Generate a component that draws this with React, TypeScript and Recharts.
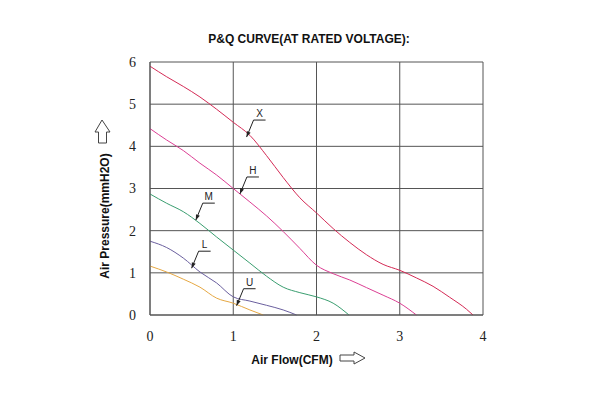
import { LineChart, Line, XAxis, YAxis, CartesianGrid, ReferenceDot } from 'recharts'

// P&Q curves, air flow (CFM) vs air pressure (mmH2O)
const flowTicks = [0, 1, 2, 3, 4]
const pressureTicks = [0, 1, 2, 3, 4, 5, 6]

const curveX = [
  { flow: 0, pressure: 5.9 }, { flow: 0.2, pressure: 5.65 }, { flow: 0.4, pressure: 5.42 },
  { flow: 0.6, pressure: 5.17 }, { flow: 0.8, pressure: 4.88 }, { flow: 1.0, pressure: 4.57 },
  { flow: 1.2, pressure: 4.26 }, { flow: 1.4, pressure: 3.78 }, { flow: 1.6, pressure: 3.26 },
  { flow: 1.8, pressure: 2.78 }, { flow: 2.0, pressure: 2.42 }, { flow: 2.2, pressure: 2.05 },
  { flow: 2.4, pressure: 1.72 }, { flow: 2.6, pressure: 1.43 }, { flow: 2.8, pressure: 1.2 },
  { flow: 3.0, pressure: 1.06 }, { flow: 3.2, pressure: 0.88 }, { flow: 3.4, pressure: 0.68 },
  { flow: 3.6, pressure: 0.42 }, { flow: 3.8, pressure: 0.14 }, { flow: 3.88, pressure: 0 },
]
const curveH = [
  { flow: 0, pressure: 4.42 }, { flow: 0.2, pressure: 4.15 }, { flow: 0.4, pressure: 3.9 },
  { flow: 0.6, pressure: 3.6 }, { flow: 0.8, pressure: 3.32 }, { flow: 1.0, pressure: 3.0 },
  { flow: 1.2, pressure: 2.68 }, { flow: 1.4, pressure: 2.35 }, { flow: 1.6, pressure: 1.98 },
  { flow: 1.8, pressure: 1.58 }, { flow: 2.0, pressure: 1.18 }, { flow: 2.2, pressure: 0.98 },
  { flow: 2.4, pressure: 0.83 }, { flow: 2.6, pressure: 0.65 }, { flow: 2.8, pressure: 0.47 },
  { flow: 3.0, pressure: 0.28 }, { flow: 3.2, pressure: 0 },
]
const curveM = [
  { flow: 0, pressure: 2.87 }, { flow: 0.2, pressure: 2.65 }, { flow: 0.4, pressure: 2.45 },
  { flow: 0.6, pressure: 2.17 }, { flow: 0.8, pressure: 1.85 }, { flow: 1.0, pressure: 1.54 },
  { flow: 1.2, pressure: 1.23 }, { flow: 1.4, pressure: 0.92 }, { flow: 1.6, pressure: 0.66 },
  { flow: 1.8, pressure: 0.53 }, { flow: 2.0, pressure: 0.43 }, { flow: 2.2, pressure: 0.28 },
  { flow: 2.39, pressure: 0 },
]
const curveL = [
  { flow: 0, pressure: 1.75 }, { flow: 0.2, pressure: 1.6 }, { flow: 0.4, pressure: 1.35 },
  { flow: 0.6, pressure: 1.02 }, { flow: 0.8, pressure: 0.76 }, { flow: 1.0, pressure: 0.43 },
  { flow: 1.2, pressure: 0.33 }, { flow: 1.4, pressure: 0.23 }, { flow: 1.6, pressure: 0.12 },
  { flow: 1.76, pressure: 0 },
]
const curveU = [
  { flow: 0, pressure: 1.16 }, { flow: 0.2, pressure: 1.02 }, { flow: 0.4, pressure: 0.85 },
  { flow: 0.6, pressure: 0.66 }, { flow: 0.8, pressure: 0.4 }, { flow: 1.0, pressure: 0.28 },
  { flow: 1.2, pressure: 0.12 }, { flow: 1.36, pressure: 0 },
]

// where each label's arrow points
const labelNames = ['X', 'H', 'M', 'L', 'U']
const labelFlow = [1.16, 1.08, 0.55, 0.5, 1.04]
const labelPressure = [4.22, 2.87, 2.25, 1.11, 0.22]

const series = [
  { name: 'X', data: curveX, color: '#d42a55' },
  { name: 'H', data: curveH, color: '#dc3f94' },
  { name: 'M', data: curveM, color: '#3a9e70' },
  { name: 'L', data: curveL, color: '#6a5f9e' },
  { name: 'U', data: curveU, color: '#e6a843' },
]

const tickStyle = { fontFamily: '"Liberation Serif", serif', fontSize: 14, fill: '#222' }
const titleFont = '"Liberation Sans", Arial, sans-serif'

function Leader(props: any) {
  const { cx, cy, text } = props
  if (cx == null || cy == null) return null
  const ex = cx + 7
  const ey = cy - 17
  // small arrow head along the leader
  const ang = Math.atan2(cy - ey, cx - ex)
  const hl = 6
  const p1 = [cx - hl * Math.cos(ang - 0.35), cy - hl * Math.sin(ang - 0.35)]
  const p2 = [cx - hl * Math.cos(ang + 0.35), cy - hl * Math.sin(ang + 0.35)]
  return (
    <g>
      <polyline points={`${cx},${cy} ${ex},${ey} ${ex + 12},${ey}`} fill="none" stroke="#222" strokeWidth={1} />
      <polygon points={`${cx},${cy} ${p1[0]},${p1[1]} ${p2[0]},${p2[1]}`} fill="#222" />
      <text x={ex + 6} y={ey - 3} textAnchor="middle" fontFamily={titleFont} fontSize={10} fill="#222">
        {text}
      </text>
    </g>
  )
}

export default function App() {
  return (
    <div style={{ position: 'absolute', left: 0, top: 0, width: 600, height: 400, background: '#fff' }}>
      <div
        style={{
          position: 'absolute', left: 0, width: 600, top: 32, textAlign: 'center', paddingLeft: 18,
          boxSizing: 'border-box', fontFamily: titleFont, fontWeight: 'bold', fontSize: 12, color: '#111',
        }}
      >
        P&amp;Q CURVE(AT RATED VOLTAGE):
      </div>
      <LineChart width={600} height={400} margin={{ top: 62, right: 117, bottom: 55, left: 100 }}>
        <CartesianGrid stroke="#555" strokeWidth={1} />
        <XAxis
          type="number"
          dataKey="flow"
          domain={[0, 4]}
          ticks={flowTicks}
          tickLine={false}
          axisLine={{ stroke: '#555' }}
          tickMargin={10}
          tick={tickStyle}
          allowDataOverflow
        />
        <YAxis
          type="number"
          dataKey="pressure"
          domain={[0, 6]}
          ticks={pressureTicks}
          width={50}
          tickLine={false}
          axisLine={{ stroke: '#555' }}
          tickMargin={8}
          tick={tickStyle}
        />
        {series.map((s) => (
          <Line
            key={s.name}
            data={s.data}
            dataKey="pressure"
            type="monotone"
            stroke={s.color}
            strokeWidth={1}
            dot={false}
            isAnimationActive={false}
          />
        ))}
        {labelNames.map((n, i) => (
          <ReferenceDot
            key={n}
            x={labelFlow[i]}
            y={labelPressure[i]}
            r={0}
            shape={(p: any) => <Leader {...p} text={n} />}
          />
        ))}
      </LineChart>
      <svg style={{ position: 'absolute', left: 0, top: 0 }} width={600} height={400}>
        <polygon points="102,120 110,132 106.5,132 106.5,143 98.5,143 98.5,132 95,132" fill="#fff" stroke="#444" strokeWidth={1} />
        <text
          x={109}
          y={216}
          transform="rotate(-90 109 216)"
          textAnchor="middle"
          fontFamily={titleFont}
          fontWeight="bold"
          fontSize={12}
          fill="#111"
        >
          Air Pressure(mmH2O)
        </text>
        <text x={292} y={364} textAnchor="middle" fontFamily={titleFont} fontWeight="bold" fontSize={12} fill="#111">
          Air Flow(CFM)
        </text>
        <polygon points="340,355 354,355 354,352 365,358 354,364 354,361 340,361" fill="#fff" stroke="#444" strokeWidth={1} />
      </svg>
    </div>
  )
}
